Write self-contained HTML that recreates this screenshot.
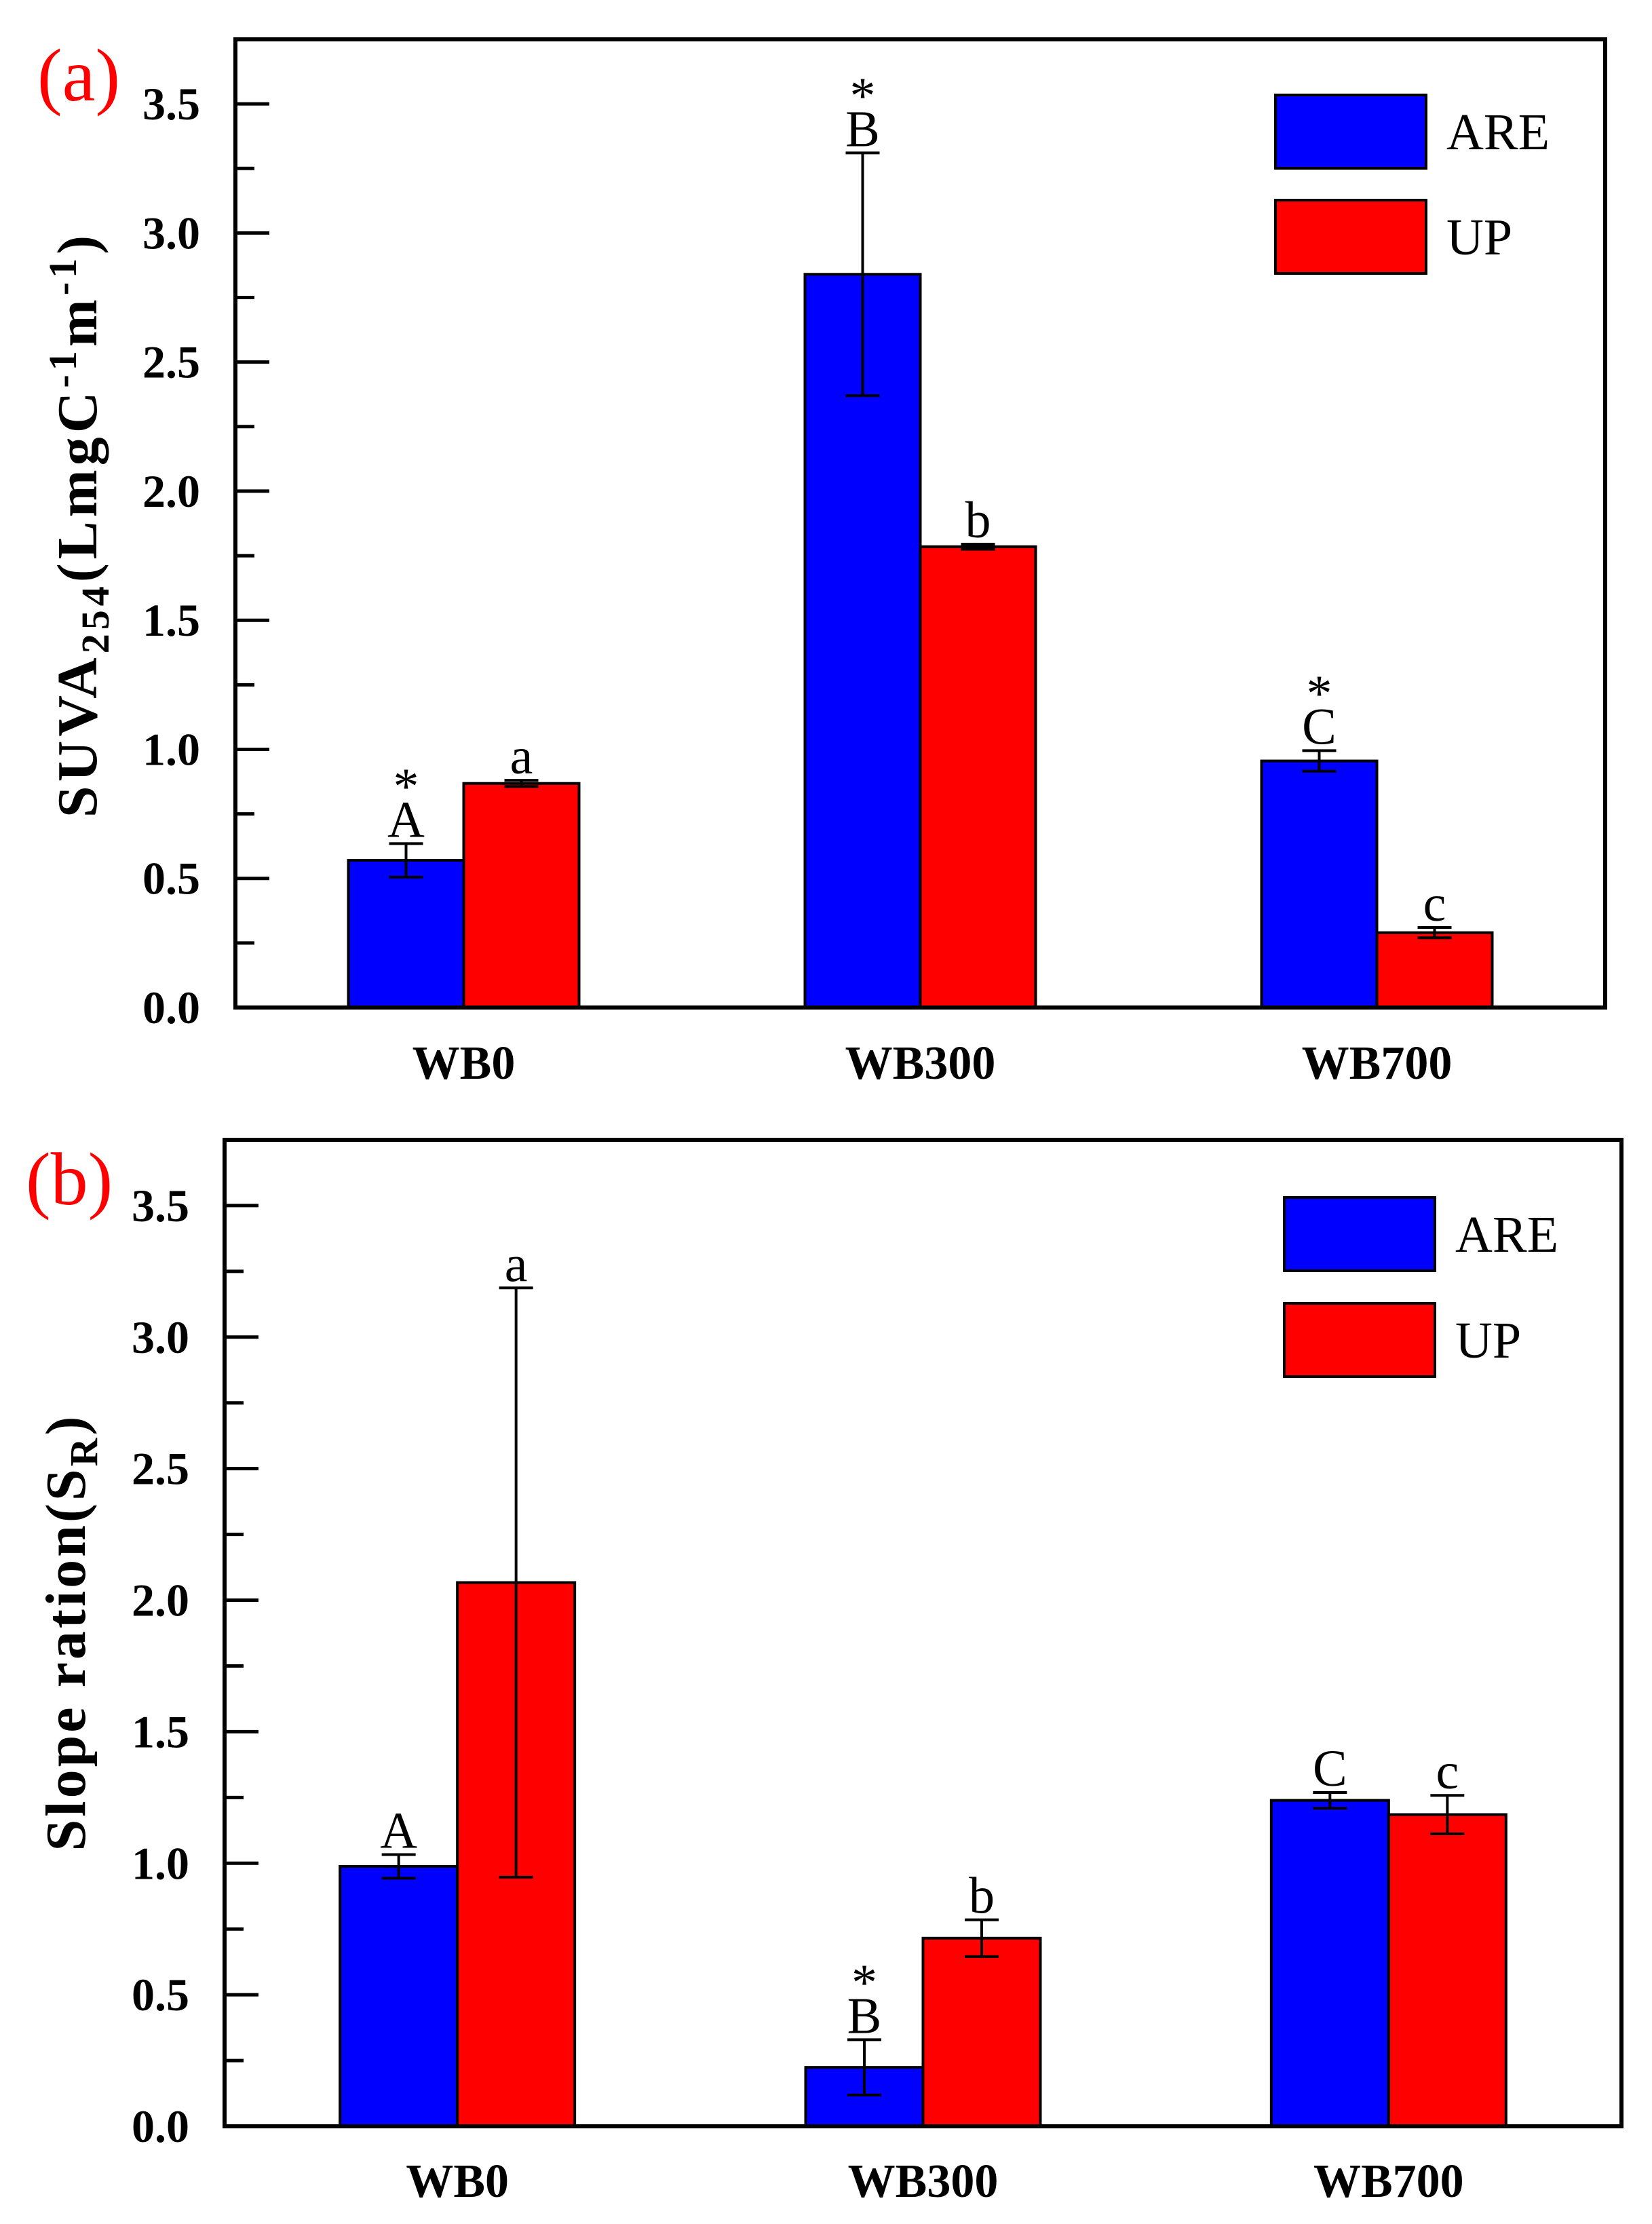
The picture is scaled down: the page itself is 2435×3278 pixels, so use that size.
<!DOCTYPE html>
<html><head><meta charset="utf-8"><style>
html,body{margin:0;padding:0;background:#fff}
svg{display:block}
text{font-family:"Liberation Serif","Times New Roman",serif}
</style></head><body>
<svg id="svg" width="2435" height="3278" viewBox="0 0 2435 3278" xmlns="http://www.w3.org/2000/svg" font-family="Liberation Serif, serif">
<rect width="2435" height="3278" fill="#fff"/>
</svg>
<script>
const categories = ["WB0","WB300","WB700"];
const seriesNames = ["ARE","UP"];
const yTicks = [0.0,0.5,1.0,1.5,2.0,2.5,3.0,3.5];
const yTickLabels = ["0.0","0.5","1.0","1.5","2.0","2.5","3.0","3.5"];
// panel a: SUVA254
const aAreVals = [0.57, 2.84, 0.955];
const aAreErr = [0.065, 0.47, 0.04];
const aUpVals = [0.868, 1.785, 0.29];
const aUpErr = [0.012, 0.01, 0.02];
const aAreLetters = ["A","B","C"];
const aUpLetters = ["a","b","c"];
const aAreStars = [true,true,true];
const aUpStars = [false,false,false];
// panel b: slope ratio
const bAreVals = [0.988, 0.224, 1.239];
const bAreErr = [0.045, 0.105, 0.03];
const bUpVals = [2.067, 0.715, 1.185];
const bUpErr = [1.12, 0.07, 0.073];
const bAreLetters = ["A","B","C"];
const bUpLetters = ["a","b","c"];
const bAreStars = [false,true,false];
const bUpStars = [false,false,false];

const NS="http://www.w3.org/2000/svg";
const svg=document.getElementById('svg');
function mk(tag,attrs,parent,txt){const e=document.createElementNS(NS,tag);for(const k in attrs)e.setAttribute(k,attrs[k]);if(txt!==undefined)e.textContent=txt;(parent||svg).appendChild(e);return e;}

function panel(cfg){
  const g=mk('g',{});
  
  
  const L=cfg.left,R=cfg.right,T=cfg.top,B=cfg.bottom,yMax=3.75;
  const y=v=>B-(v/yMax)*(B-T);
  const step=(R-L)/3;
  const x=i=>L+step*(i+0.5);
  const bw=cfg.bw;
  const series=[
    {vals:cfg.areVals,err:cfg.areErr,letters:cfg.areLetters,stars:cfg.areStars,color:'#0000ff',off:-1,key:'are'},
    {vals:cfg.upVals,err:cfg.upErr,letters:cfg.upLetters,stars:cfg.upStars,color:'#ff0000',off:0,key:'up'}];
  series.forEach(s=>{
    s.vals.forEach((v,i)=>{
      const bx=x(i)+s.off*bw;
      const r=mk('rect',{x:bx,y:y(v),width:bw,height:B-y(v),fill:s.color,stroke:'#000','stroke-width':4},g);
      
      
      const cx=bx+bw/2,top=y(v+s.err[i]),bot=y(v-s.err[i]);
      const eb=mk('path',{d:`M${cx},${top}V${bot}M${cx-25},${top}H${cx+25}M${cx-25},${bot}H${cx+25}`,stroke:'#000','stroke-width':4,fill:'none'},g);
      
      
      const lb=top-10;
      const t=mk('text',{x:cx,y:lb,'text-anchor':'middle','font-size':76},g,s.letters[i]);
      
      
      if(s.stars[i]){
        const st=mk('text',{x:cx,y:lb-49,'text-anchor':'middle','font-size':76},g,'*');
        
        
      }
    });
  });
  yTicks.forEach((v,i)=>{
    const tk=mk('line',{x1:L,x2:L+50,y1:y(v),y2:y(v),stroke:'#000','stroke-width':5},g);
    
    
    const mv=v+0.25;
    if(mv<yMax){
      const mt=mk('line',{x1:L,x2:L+28,y1:y(mv),y2:y(mv),stroke:'#000','stroke-width':5},g);
      
      
    }
    const tl=mk('text',{x:L-52,y:y(v)+23,'text-anchor':'end','font-size':68,'font-weight':'bold'},g,yTickLabels[i]);
    
    
  });
  categories.forEach((c,i)=>{
    const xl=mk('text',{x:x(i),y:cfg.xLabelY,'text-anchor':'middle','font-size':70,'font-weight':'bold'},g,c);
    
    
  });
  const fr=mk('rect',{x:L,y:T,width:R-L,height:B-T,fill:'none',stroke:'#000','stroke-width':6},g);
  
  
  const lg=mk('g',{},g);
  
  
  [['#0000ff','ARE',cfg.legY1],['#ff0000','UP',cfg.legY2]].forEach(([col,name,ly])=>{
    const lr=mk('rect',{x:cfg.legX,y:ly,width:222,height:108,fill:col,stroke:'#000','stroke-width':4},lg);
    
    
    const lt=mk('text',{x:cfg.legX+252,y:ly+80,'font-size':76},lg,name);
    
    
  });
  const pl=mk('text',{x:cfg.plX,y:cfg.plY,'font-size':110,fill:'#ff0000'},g,cfg.panelLabel);
  
  
  return g;
}

panel({name:'panel-a-suva',left:347,right:2366,top:58,bottom:1485,bw:170,xLabelY:1590,
  areVals:aAreVals,areErr:aAreErr,upVals:aUpVals,upErr:aUpErr,areLetters:aAreLetters,upLetters:aUpLetters,areStars:aAreStars,upStars:aUpStars,
  legX:1880,legY1:140,legY2:295,panelLabel:'(a)',plX:55,plY:148});
panel({name:'panel-b-slope-ratio',left:331,right:2390,top:1680,bottom:3134,bw:173,xLabelY:3238,
  areVals:bAreVals,areErr:bAreErr,upVals:bUpVals,upErr:bUpErr,areLetters:bAreLetters,upLetters:bUpLetters,areStars:bAreStars,upStars:bUpStars,
  legX:1893,legY1:1765,legY2:1921,panelLabel:'(b)',plX:38,plY:1775});
</script>
<svg style="position:absolute;left:0;top:0" width="2435" height="3278" xmlns="http://www.w3.org/2000/svg">
<text transform="translate(142,773) rotate(-90)" text-anchor="middle" font-size="84" font-weight="bold" letter-spacing="6" font-family="Liberation Serif, serif">SUVA<tspan font-size="58" dy="18">254</tspan><tspan dy="-18">(LmgC</tspan><tspan font-size="58" dy="-30">-1</tspan><tspan dy="30">m</tspan><tspan font-size="58" dy="-30">-1</tspan><tspan dy="30">)</tspan></text>
<text transform="translate(125,2406) rotate(-90)" text-anchor="middle" font-size="84" font-weight="bold" letter-spacing="4" font-family="Liberation Serif, serif">Slope ration(S<tspan font-size="58" dy="18">R</tspan><tspan dy="-18">)</tspan></text>
</svg>
</body></html>
